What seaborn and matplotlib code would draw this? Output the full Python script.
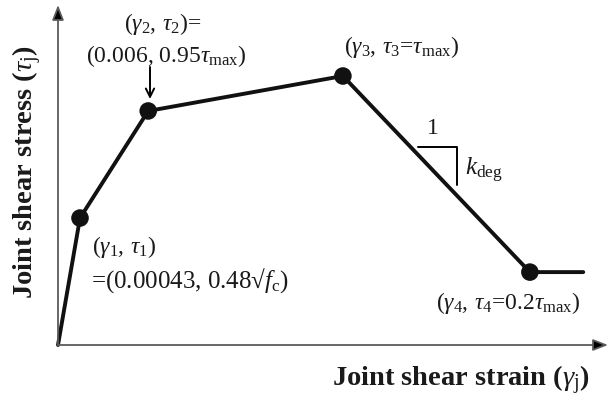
import matplotlib
matplotlib.use("Agg")
import matplotlib.pyplot as plt
import seaborn as sns
import pandas as pd

sns.set_style("white")
plt.rcParams.update({
    "font.family": ["Liberation Serif", "DejaVu Serif"],
    "mathtext.fontset": "custom",
    "mathtext.rm": "Liberation Serif",
    "mathtext.it": "Liberation Serif:italic",
    "mathtext.bf": "Liberation Serif:bold",
})

# Backbone of the joint shear stress-strain model (schematic, normalised units)
strain = [0.0, 0.040, 0.164, 0.518, 0.858, 0.955]          # gamma / axis length
stress = [0.0, 0.472, 0.870, 1.000, 0.271, 0.271]          # tau / tau_max
key_points = [1, 2, 3, 4]                                   # points with dots

point_labels = [
    r"$(\gamma_1,\,\tau_1)$",
    r"=(0.00043, 0.48√$f_{\rm c}$)",
    r"$(\gamma_2,\,\tau_2)$=",
    r"(0.006, 0.95$\tau_{\rm max}$)",
    r"$(\gamma_3,\,\tau_3$=$\tau_{\rm max})$",
    r"$(\gamma_4,\,\tau_4$=0.2$\tau_{\rm max})$",
]
x_label = r"Joint shear strain ($\gamma_{\rm j}$)"
y_label = r"Joint shear stress ($\tau_{\rm j}$)"

W, H = 608, 398
fig = plt.figure(figsize=(W / 100, H / 100), dpi=100)
# axis frame: origin at (58, 345) px, x arrow to 608 px, y arrow to 5 px
ax = fig.add_axes([58 / W, 53 / H, 550 / W, 340 / H])
ax.set_xlim(0, 1)
ax.set_ylim(0, 340 / 269)
ax.axis("off")

# coordinate axes with arrow heads
axis_color = "#5a5a5a"
for tip in [(1.0, 0), (0, 1.0)]:
    ax.annotate("", xy=tip, xytext=(0, 0), xycoords="axes fraction",
                arrowprops=dict(arrowstyle="-|>,head_length=0.9,head_width=0.35",
                                lw=1.3, shrinkA=0, shrinkB=0,
                                fc="black", ec=axis_color))

df = pd.DataFrame({"strain": strain, "stress": stress})
sns.lineplot(data=df, x="strain", y="stress", sort=False, estimator=None,
             color="#111111", lw=2.8, ax=ax, clip_on=False)
pts = df.iloc[key_points]
sns.scatterplot(data=pts, x="strain", y="stress", s=160, color="#111111",
                edgecolor="none", zorder=5, ax=ax, clip_on=False)
ax.set_xlabel("")
ax.set_ylabel("")


def px(x, y):
    return x / W, 1 - y / H


fs = 17
tc = "#1a1a1a"
fig.text(*px(92, 247), point_labels[0], fontsize=fs, color=tc, ha="left", va="center")
fig.text(*px(91, 281), point_labels[1], fontsize=fs + 1, color=tc, ha="left", va="center")
fig.text(*px(163, 24), point_labels[2], fontsize=fs, color=tc, ha="center", va="center")
fig.text(*px(166, 56), point_labels[3], fontsize=fs, color=tc, ha="center", va="center")
fig.text(*px(402, 47), point_labels[4], fontsize=fs, color=tc, ha="center", va="center")
fig.text(*px(508, 303), point_labels[5], fontsize=fs, color=tc, ha="center", va="center")

# pointer to the second point
ax.annotate("", xy=px(150, 99), xytext=px(150, 67), xycoords="figure fraction",
            textcoords="figure fraction",
            arrowprops=dict(arrowstyle="->,head_length=0.6,head_width=0.3",
                            color="black", lw=1.4, shrinkA=0, shrinkB=0))

# slope triangle for the degradation branch
bx = [px(418, 147)[0], px(457, 147)[0], px(457, 185)[0]]
by = [px(418, 147)[1], px(457, 147)[1], px(457, 185)[1]]
fig.add_artist(plt.Line2D(bx, by, color="black", lw=1.4,
                          transform=fig.transFigure))
fig.text(*px(433, 129), "1", fontsize=fs, color=tc, ha="center", va="center")
fig.text(*px(465, 170), r"$k_{\rm deg}$", fontsize=fs + 1, color=tc,
         ha="left", va="center")

fig.text(*px(461, 380), x_label, fontsize=20.5, fontweight="bold",
         color=tc, ha="center", va="center")
fig.text(*px(27, 172), y_label, fontsize=20.5, fontweight="bold",
         color=tc, ha="center", va="center", rotation=90)

fig.savefig("out.png", dpi=100)
